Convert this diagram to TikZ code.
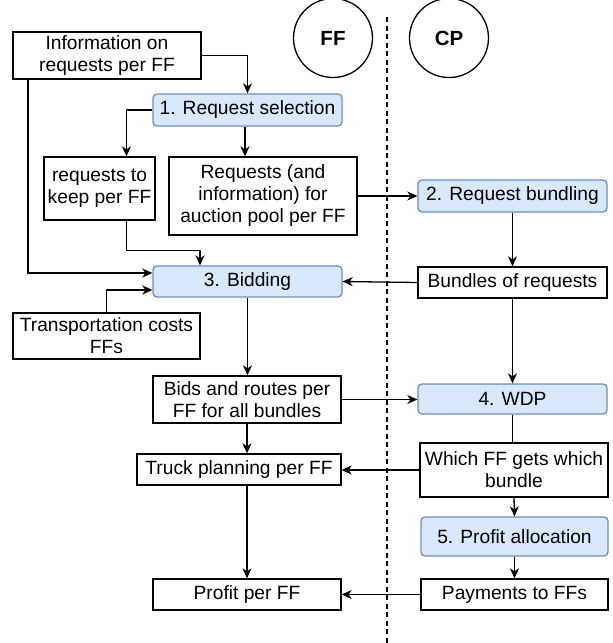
\documentclass[tikz,border=0pt]{standalone}
\usepackage{fontspec}
\setmainfont{Liberation Sans}
\usetikzlibrary{arrows.meta,calc}
\definecolor{blfill}{RGB}{218,232,252}
\definecolor{bldraw}{RGB}{108,142,191}
\tikzset{
  box/.style={draw=black, line width=1.3pt, fill=white, inner sep=0pt, align=center,
    font=\fontsize{19.2}{22}\selectfont},
  stepbox/.style={box, draw=bldraw, fill=blfill, rounded corners=4pt},
  actor/.style={draw=black, line width=1.3pt, circle, inner sep=0pt, minimum size=79pt,
    font=\fontsize{20.5}{24}\selectfont\bfseries},
  arr/.style={line width=1.3pt, -{Stealth[length=10pt,width=9pt,inset=3pt]}},
  ln/.style={line width=1.3pt}
}
\begin{document}
\begin{tikzpicture}[x=1pt,y=-1pt]
\useasboundingbox (0,0) rectangle (613,643);
% separator
\draw[line width=1.2pt, dash pattern=on 5pt off 3.5pt] (387,17) coordinate (dtop) -- (387,643) coordinate (dbot);
% actors
\node[actor] (ff) at (333,38) {FF};
\node[actor] (cp) at (449,38) {CP};
% boxes
\node[box, minimum width=188pt, minimum height=47pt] (info) at (107,55.5) {Information on\\requests per FF};
\node[stepbox, minimum width=189pt, minimum height=32pt] (sel) at (247.5,110) {1. Request selection};
\node[box, minimum width=111pt, minimum height=63pt] (keep) at (99.5,188.5) {requests to\\keep per FF};
\node[box, minimum width=188pt, minimum height=78pt] (req) at (263,196) {Requests (and\\information) for\\auction pool per FF};
\node[stepbox, minimum width=189pt, minimum height=32pt] (bund) at (512.5,196) {2. Request bundling};
\node[box, minimum width=189pt, minimum height=31pt] (bundles) at (512.5,282.5) {Bundles of requests};
\node[stepbox, minimum width=189pt, minimum height=31pt] (bid) at (247.5,281.5) {3. Bidding};
\node[box, minimum width=187pt, minimum height=46pt] (trans) at (106.5,336) {Transportation costs\\FFs};
\node[box, minimum width=188pt, minimum height=47pt] (bids) at (247,399.5) {Bids and routes per\\FF for all bundles};
\node[stepbox, minimum width=189pt, minimum height=30pt] (wdp) at (512.5,399) {4. WDP};
\node[box, minimum width=188pt, minimum height=54pt] (which) at (514,470) {Which FF gets which\\bundle};
\node[box, minimum width=204pt, minimum height=31pt] (truck) at (239,469.5) {Truck planning per FF};
\node[stepbox, minimum width=187pt, minimum height=39pt] (palloc) at (514.5,536.5) {5. Profit allocation};
\node[box, minimum width=188pt, minimum height=31pt] (profit) at (247,594.5) {Profit per FF};
\node[box, minimum width=187pt, minimum height=31pt] (pay) at (514.5,594.5) {Payments to FFs};
% connectors
\draw[arr] (info.east) -| (sel.north);
\draw[arr] (sel.west) -| ([xshift=27pt]keep.north);
\draw[arr] ([xshift=-2.5pt]sel.south) -- ([xshift=-2.5pt]sel.south |- req.north);
\draw[arr] (req.east) -- (bund.west);
\draw[arr] (bund.south) -- (bundles.north);
\draw[arr] (bundles.west) -- (bid.east);
\draw[arr] ([xshift=-79pt]info.south) |- ([yshift=8.5pt]bid.west);
\draw[arr] ([xshift=27pt]keep.south) -- ++(0,30) -| ([xshift=-47.5pt]bid.north);
\draw[arr] (trans.north) |- ([yshift=-8.5pt]bid.west);
\draw[arr] (bid.south) -- (bid.south |- bids.north);
\draw[arr] (bids.east) -- (bids.east -| wdp.west);
\draw[arr] (bundles.south) -- (wdp.north);
\draw[ln] (wdp.south) -- (wdp.south |- which.north);
\draw[arr] (which.west) -- (which.west -| truck.east);
\draw[arr] (bids.south) -- (bids.south |- truck.north);
\draw[arr] (profit.north |- truck.south) -- (profit.north);
\draw[arr] (which.south) -- (palloc.north);
\draw[arr] (palloc.south) -- (pay.north);
\draw[arr] (pay.west) -- (profit.east);
\end{tikzpicture}
\end{document}
